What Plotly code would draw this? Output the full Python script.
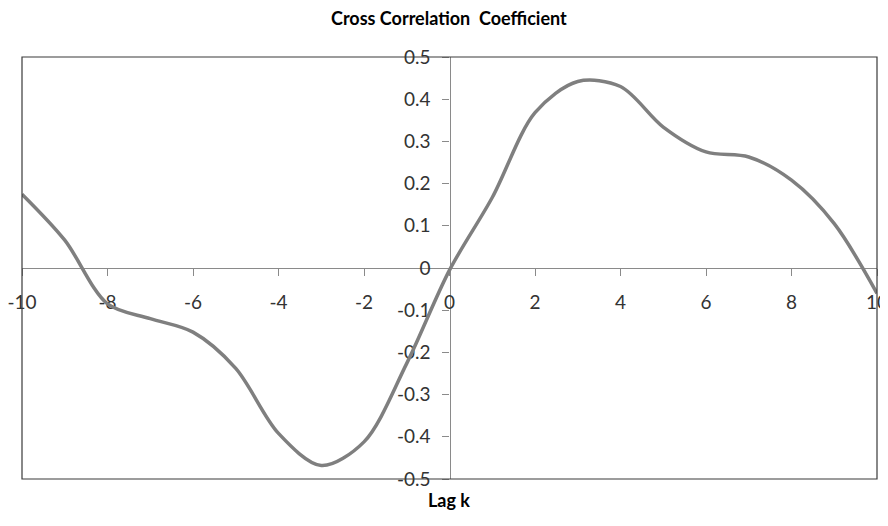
import plotly.graph_objects as go

lags = list(range(-10, 11))
ccf = [0.175, 0.066, -0.085, -0.12, -0.152, -0.238, -0.392, -0.468, -0.412, -0.226,
       -0.005, 0.167, 0.368, 0.442, 0.43, 0.334, 0.275, 0.263, 0.208, 0.105, -0.06]

x_tickvals = [-10, -8, -6, -4, -2, 0, 2, 4, 6, 8, 10]
x_ticktext = ["-10", "-8", "-6", "-4", "-2", "0", "2", "4", "6", "8", "10"]
y_tickvals = [-0.5, -0.4, -0.3, -0.2, -0.1, 0, 0.1, 0.2, 0.3, 0.4, 0.5]
y_ticktext = ["-0.5", "-0.4", "-0.3", "-0.2", "-0.1", "0", "0.1", "0.2", "0.3", "0.4", "0.5"]

title_text = "Cross Correlation\u00a0 Coefficient"
xlabel_text = "Lag k"

FONT = "Lato, 'Open Sans', sans-serif"
AXIS_COLOR = "#8a8a8a"

fig = go.Figure()
fig.add_trace(go.Scatter(
    x=lags, y=ccf, mode="lines",
    line=dict(color="#7f7f7f", width=3.5, shape="spline", smoothing=0.9),
    showlegend=False, hoverinfo="x+y",
))

fig.update_layout(
    width=880, height=518,
    margin=dict(l=14, r=11, t=48.5, b=47),
    paper_bgcolor="white", plot_bgcolor="white",
    font=dict(family=FONT, size=19, color="#333333"),
    xaxis=dict(
        range=[-10, 10], domain=[0, 1], anchor="free", position=0.5,
        automargin=False, ticklabeloverflow="allow",
        showline=True, linecolor=AXIS_COLOR, linewidth=1.3,
        ticks="outside", ticklen=7, tickcolor=AXIS_COLOR, tickwidth=1.3,
        tickvals=x_tickvals, ticktext=x_ticktext, ticklabelstandoff=10,
        showgrid=False, zeroline=False, layer="below traces",
    ),
    yaxis=dict(
        range=[-0.5, 0.5], domain=[0, 1], anchor="free", position=0.5,
        automargin=False, ticklabeloverflow="allow",
        showline=True, linecolor=AXIS_COLOR, linewidth=1.3,
        ticks="outside", ticklen=7, tickcolor=AXIS_COLOR, tickwidth=1.3,
        tickvals=y_tickvals, ticktext=y_ticktext, ticklabelstandoff=8,
        showgrid=False, zeroline=False, layer="below traces",
    ),
    shapes=[dict(type="rect", xref="paper", yref="paper", x0=0, x1=1, y0=0, y1=1,
                 line=dict(color="#3a3a3a", width=1.2), layer="above")],
    annotations=[
        dict(text="<b>" + title_text + "</b>", xref="paper", yref="paper",
             x=0.499, y=1, yshift=39.5, xanchor="center", yanchor="middle",
             showarrow=False, font=dict(family=FONT, size=18, color="#000000")),
        dict(text="<b>" + xlabel_text + "</b>", xref="paper", yref="paper",
             x=0.499, y=0, yshift=-21, xanchor="center", yanchor="middle",
             showarrow=False, font=dict(family=FONT, size=18, color="#000000")),
    ],
)

fig.write_html("out.html")
